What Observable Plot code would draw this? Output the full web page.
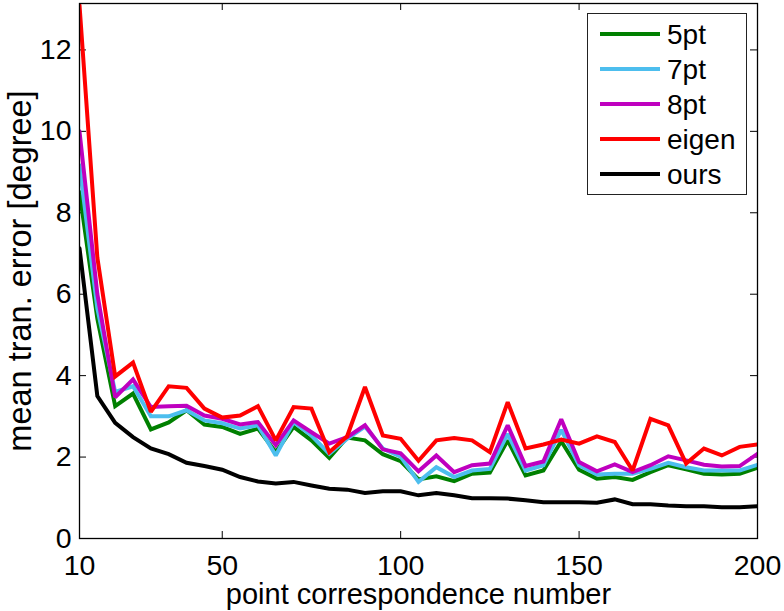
<!DOCTYPE html>
<html>
<head>
<meta charset="utf-8">
<script src="https://cdn.jsdelivr.net/npm/d3@7"></script>
<script src="https://cdn.jsdelivr.net/npm/@observablehq/plot@0.6"></script>
<style>
  body { margin: 0; background: #fff; }
  #wrap { position: relative; width: 784px; height: 611px; font-family: "Liberation Sans", Arial, Helvetica, sans-serif; }
  #legend { position: absolute; left: 587px; top: 13px; width: 160px; height: 182px; border: 1px solid #222; background: #fff; box-sizing: border-box; }
  .row { position: absolute; left: 0; height: 35px; width: 100%; }
  .sw { position: absolute; left: 12px; top: 16px; width: 60px; height: 4px; }
  .lb { position: absolute; left: 79px; top: 1px; font-size: 28px; line-height: 35px; color: #000; white-space: nowrap; }
</style>
</head>
<body>
<div id="wrap"><div id="legend"></div></div>
<script>
// ---- data ----
const xValues = [10,15,20,25,30,35,40,45,50,55,60,65,70,75,80,85,90,95,100,105,110,115,120,125,130,135,140,145,150,155,160,165,170,175,180,185,190,195,200];
const pt5   = [8.51,5.40,3.25,3.56,2.68,2.85,3.15,2.80,2.74,2.57,2.70,2.12,2.74,2.41,1.98,2.48,2.41,2.07,1.90,1.45,1.53,1.41,1.59,1.62,2.41,1.55,1.67,2.39,1.69,1.47,1.51,1.44,1.63,1.80,1.70,1.59,1.57,1.59,1.74];
const pt7   = [9.17,5.65,3.60,3.74,3.00,3.00,3.15,2.90,2.83,2.70,2.78,2.04,2.86,2.53,2.08,2.45,2.75,2.21,2.01,1.39,1.75,1.51,1.67,1.71,2.57,1.67,1.80,2.67,1.80,1.57,1.59,1.59,1.71,1.86,1.75,1.67,1.67,1.67,1.81];
const pt8   = [10.0,6.00,3.47,3.91,3.23,3.25,3.26,3.02,2.94,2.80,2.86,2.29,2.90,2.61,2.33,2.49,2.78,2.19,2.09,1.65,2.04,1.63,1.80,1.84,2.78,1.78,1.89,2.93,1.88,1.65,1.82,1.63,1.80,2.02,1.92,1.81,1.77,1.78,2.08];
const eigen = [13.1,6.90,3.98,4.32,3.11,3.74,3.70,3.19,2.97,3.02,3.25,2.41,3.23,3.19,2.12,2.51,3.72,2.53,2.45,1.91,2.41,2.47,2.41,2.12,3.35,2.21,2.31,2.43,2.33,2.51,2.37,1.67,2.94,2.78,1.84,2.21,2.04,2.25,2.31];
const ours  = [7.13,3.50,2.84,2.49,2.21,2.07,1.86,1.78,1.69,1.51,1.40,1.35,1.39,1.30,1.22,1.20,1.12,1.16,1.16,1.06,1.12,1.06,0.99,0.99,0.98,0.94,0.89,0.89,0.89,0.88,0.96,0.84,0.84,0.81,0.79,0.79,0.77,0.77,0.79];
const seriesNames  = ["5pt","7pt","8pt","eigen","ours"];
const seriesColors = ["#008000","#4DBEEE","#BF00BF","#FF0000","#000000"];
const seriesValues = [pt5, pt7, pt8, eigen, ours];
const xTicks = [10,50,100,150,200];
const yTicks = [0,2,4,6,8,10,12];
const xDomain = [10,200];
const yDomain = [0,13.14];
const xLabel = "point correspondence number";
const yLabel = "mean tran. error [degree]";

// ---- layout ----
const W = 784, H = 611, mL = 79, mR = 27, mT = 3, mB = 73;
const plotW = W - mL - mR, plotH = H - mT - mB, tk = 7;
const font = "'Liberation Sans', Arial, Helvetica, sans-serif";

const lineMarks = seriesValues.map((vals, k) =>
  Plot.line(vals.map((v, i) => ({x: xValues[i], y: v})), {
    x: "x", y: "y", stroke: seriesColors[k], strokeWidth: 4, clip: true,
    strokeLinejoin: "miter", strokeMiterlimit: 2
  })
);

const chart = Plot.plot({
  width: W, height: H,
  marginLeft: mL, marginRight: mR, marginTop: mT, marginBottom: mB,
  style: {fontFamily: font, fontSize: "28px", color: "#000", background: "#fff", overflow: "visible"},
  x: {domain: xDomain},
  y: {domain: yDomain},
  marks: [
    Plot.axisX({ticks: xTicks, tickSize: 0, tickPadding: 16, fontSize: 28.5, label: null, tickFormat: d => String(d)}),
    Plot.axisY({ticks: yTicks, tickSize: 0, tickPadding: 8, fontSize: 28.5, label: null, tickFormat: d => String(d)}),
    Plot.tickY(yTicks, {y: d => d, insetRight: plotW - tk, stroke: "#000"}),
    Plot.tickY(yTicks, {y: d => d, insetLeft: plotW - tk, stroke: "#000"}),
    Plot.tickX(xTicks, {x: d => d, insetTop: plotH - tk, stroke: "#000"}),
    Plot.tickX(xTicks, {x: d => d, insetBottom: plotH - tk, stroke: "#000"}),
    ...lineMarks,
    Plot.frame({stroke: "#000", strokeWidth: 1.3}),
    Plot.text([xLabel], {frameAnchor: "bottom", dy: 56, fontSize: 29, fill: "#000", textAnchor: "middle", lineAnchor: "middle"}),
    Plot.text([yLabel], {frameAnchor: "left", rotate: -90, dx: -59, fontSize: 32.5, fill: "#000", textAnchor: "middle", lineAnchor: "middle"})
  ]
});
const wrap = document.getElementById("wrap");
wrap.insertBefore(chart, wrap.firstChild);

// ---- legend ----
const legend = document.getElementById("legend");
seriesNames.forEach((name, i) => {
  const row = document.createElement("div");
  row.className = "row";
  row.style.top = (2 + 35 * i) + "px";
  const sw = document.createElement("div");
  sw.className = "sw";
  sw.style.background = seriesColors[i];
  const lb = document.createElement("div");
  lb.className = "lb";
  lb.textContent = name;
  row.appendChild(sw); row.appendChild(lb);
  legend.appendChild(row);
});
</script>
</body>
</html>
